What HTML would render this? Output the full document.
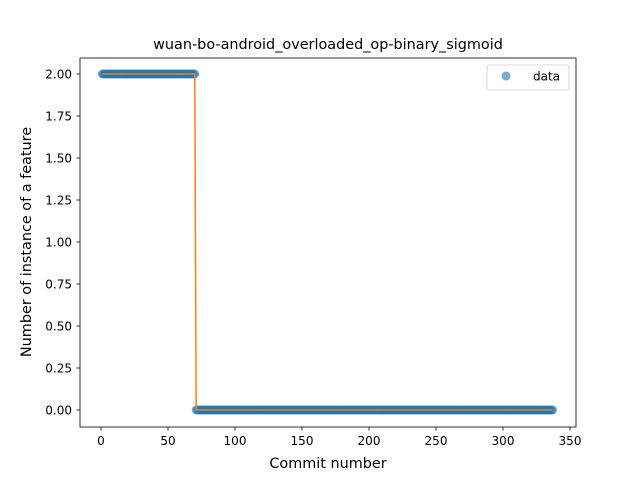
<!DOCTYPE html>
<html><head><meta charset="utf-8"><style>
body{margin:0;background:#fff;font-family:"Liberation Sans","DejaVu Sans",sans-serif}
svg text{font-family:"DejaVu Sans","Liberation Sans",sans-serif}
</style></head><body>
<svg id="chart" width="640" height="480" xmlns="http://www.w3.org/2000/svg">
<rect width="640" height="480" fill="#fff"/>
<text x="328" y="49" font-size="14.4" text-anchor="middle">wuan-bo-android_overloaded_op-binary_sigmoid</text>
<text x="328" y="468" font-size="14.4" text-anchor="middle">Commit number</text>
<text transform="translate(31,242) rotate(-90)" font-size="14.4" text-anchor="middle">Number of instance of a feature</text>
<g id="ticks"></g>
<g id="marks"></g>
<rect x="80" y="58" width="496" height="369" fill="none" stroke="#000" stroke-width="0.8"/>
<g>
<rect x="487" y="65" width="82" height="25" rx="2" fill="#fff" stroke="#ccc" stroke-width="0.8"/>
<circle cx="506" cy="76" r="4.5" fill="#1f77b4" fill-opacity="0.6"/>
<text x="533" y="80.5" font-size="12">data</text>
</g>
</svg>
<script>
const runStarts = [1, 71];
const runEnds = [70, 337];
const runValues = [2, 0];
const xTicks = [0, 50, 100, 150, 200, 250, 300, 350];
const yTicks = [0.00, 0.25, 0.50, 0.75, 1.00, 1.25, 1.50, 1.75, 2.00];
const X = v => 101 + v * (469 / 350);
const Y = v => 410 - v * 168;
const NS = "http://www.w3.org/2000/svg";
const tk = document.getElementById('ticks');
const mk = document.getElementById('marks');
function mkEl(t, a, p){const e=document.createElementNS(NS,t);for(const k in a)e.setAttribute(k,a[k]);p.appendChild(e);return e;}
xTicks.forEach(v=>{
  const l=mkEl('line',{x1:X(v),x2:X(v),y1:427,y2:430.5,stroke:'#000','stroke-width':0.8},tk);
  
  
  const t=mkEl('text',{x:X(v),y:445,'font-size':12,'text-anchor':'middle'},tk);
  t.textContent=v;
  
  
});
yTicks.forEach(v=>{
  const l=mkEl('line',{x1:76.5,x2:80,y1:Y(v),y2:Y(v),stroke:'#000','stroke-width':0.8},tk);
  
  
  const t=mkEl('text',{x:72,y:Y(v)+4.5,'font-size':12,'text-anchor':'end'},tk);
  t.textContent=v.toFixed(2);
  
  
});
const xs=[], ys=[];
runStarts.forEach((s,i)=>{for(let c=s;c<=runEnds[i];c++){xs.push(c);ys.push(runValues[i]);}});
xs.forEach((c,i)=>{
  const p=mkEl('circle',{cx:X(c),cy:Y(ys[i]),r:4.5,fill:'#1f77b4','fill-opacity':0.6},mk);
  
  
});
const line=mkEl('polyline',{points:xs.map((c,i)=>X(c)+','+Y(ys[i])).join(' '),fill:'none',stroke:'#ff7f0e','stroke-width':1.5},mk);


</script>
</body></html>
